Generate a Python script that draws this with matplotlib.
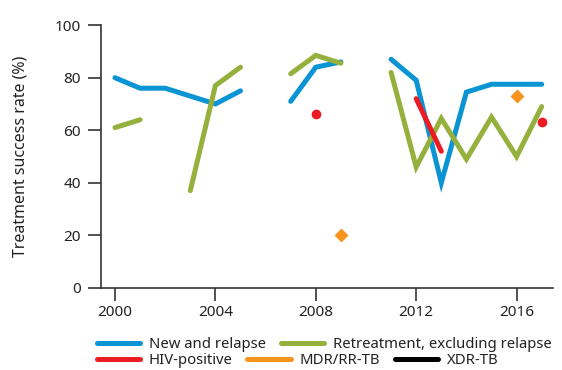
import numpy as np
import matplotlib.pyplot as plt
from matplotlib.lines import Line2D

plt.rcParams['font.family'] = ['Noto Sans', 'DejaVu Sans']

years = np.arange(2000, 2018)
nan = np.nan

# treatment success rate (%), nan = no data
new_relapse = [80, 76, 76, 73, 70, 75, nan, 71, 84, 86, nan,
               87, 79, 40, 74.5, 77.5, 77.5, 77.5]
retreatment = [61, 64, nan, 37, 77, 84, nan, 81.5, 88.5, 85.5, nan,
               82, 46, 64.5, 49, 65, 50, 69]
hiv_line_years = [2012, 2013]
hiv_line = [72, 52]
hiv_point_years = [2008, 2017]
hiv_points = [66, 63]
mdr_years = [2009, 2016]
mdr = [20, 73]

BLUE = '#0a94d3'
GREEN = '#95b03c'
RED = '#ec1c24'
ORANGE = '#f7941d'
BLACK = '#000000'
TXT = '#222222'

fig = plt.figure(figsize=(5.62, 3.70), dpi=100)
ax = fig.add_axes([0.18, 0.222, 0.804, 0.71])

lw = 3.6
ax.plot(years, new_relapse, color=BLUE, lw=lw, solid_capstyle='round', solid_joinstyle='miter')
ax.plot(years, retreatment, color=GREEN, lw=lw, solid_capstyle='round', solid_joinstyle='miter')
ax.plot(hiv_line_years, hiv_line, color=RED, lw=lw, solid_capstyle='round')
ax.plot(hiv_point_years, hiv_points, 'o', color=RED, ms=7, mec='none')
ax.plot(mdr_years, mdr, 'D', color=ORANGE, ms=7, mec='none')

ax.set_xlim(1999.45, 2017.45)
ax.set_ylim(0, 100)
ax.set_xticks([2000, 2004, 2008, 2012, 2016])
ax.set_yticks([0, 20, 40, 60, 80, 100])
ax.spines['top'].set_visible(False)
ax.spines['right'].set_visible(False)
for s in ['left', 'bottom']:
    ax.spines[s].set_color('#333333')
    ax.spines[s].set_linewidth(1.2)
ax.tick_params(axis='both', direction='out', length=9.5, width=1.2,
               color='#333333', labelsize=11, labelcolor=TXT)
ax.tick_params(axis='y', pad=5)
ax.tick_params(axis='x', pad=2.5)
ax.set_ylabel('Treatment success rate (%)', fontsize=11.5, color=TXT, labelpad=19)

def handle(c):
    return Line2D([], [], color=c, lw=lw, solid_capstyle='round')

leg_kw = dict(frameon=False, fontsize=10.7, handlelength=2.9, handletextpad=0.6,
              columnspacing=1.0, borderaxespad=0, borderpad=0, labelcolor=TXT)
leg1 = fig.legend([handle(BLUE), handle(GREEN)],
                  ['New and relapse', 'Retreatment, excluding relapse'],
                  ncol=2, loc='center left', bbox_to_anchor=(0.172, 1 - 345 / 370), **leg_kw)
leg2 = fig.legend([handle(RED), handle(ORANGE), handle(BLACK)],
                  ['HIV-positive', 'MDR/RR-TB', 'XDR-TB'],
                  ncol=3, loc='center left', bbox_to_anchor=(0.172, 1 - 361 / 370), **leg_kw)

fig.savefig('out.png', dpi=100)
